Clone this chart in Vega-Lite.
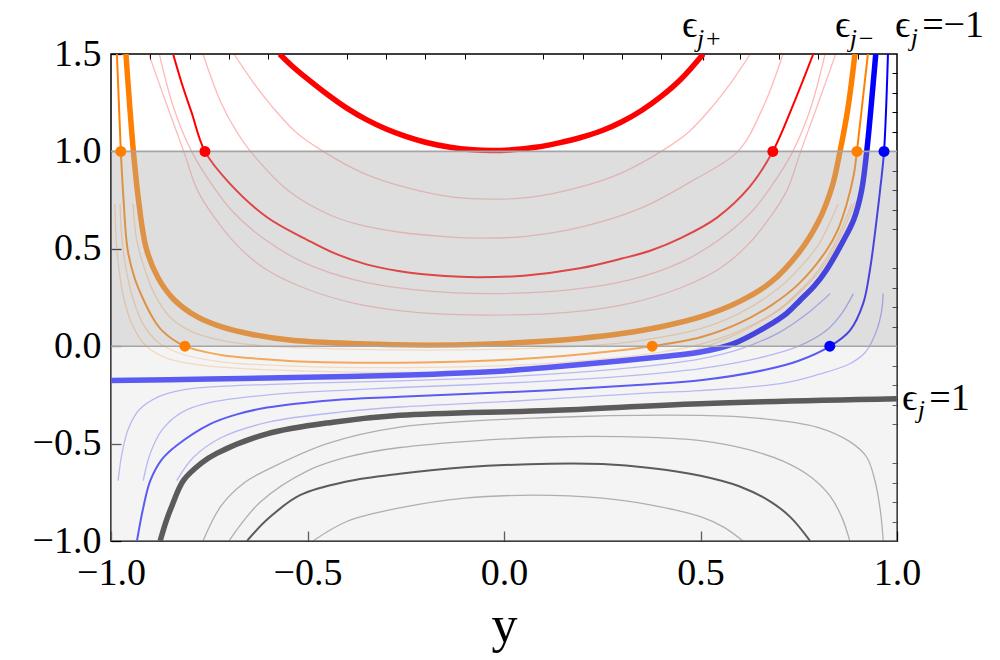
{
  "$schema": "https://vega.github.io/schema/vega-lite/v6.json",
  "width": 786,
  "height": 487,
  "autosize": {"type": "none"},
  "padding": {"left": 111, "top": 54, "right": 103, "bottom": 119},
  "background": "white",
  "config": {
    "view": {"stroke": "#000000", "strokeWidth": 1.5},
    "font": "Liberation Serif"
  },
  "datasets": {
    "info": [
      {"c": "R0", "family": "red", "kind": "thick"},
      {"c": "R1", "family": "red", "kind": "thin"},
      {"c": "R2", "family": "red", "kind": "faint"},
      {"c": "R3", "family": "red", "kind": "faint"},
      {"c": "R4", "family": "red", "kind": "faint"},
      {"c": "R5", "family": "red", "kind": "faint"},
      {"c": "O0", "family": "orange", "kind": "thick"},
      {"c": "O1", "family": "orange", "kind": "thin"},
      {"c": "O2", "family": "orange", "kind": "faint"},
      {"c": "O3", "family": "orange", "kind": "faint"},
      {"c": "O4", "family": "orange", "kind": "faint"},
      {"c": "B0", "family": "blue", "kind": "thick"},
      {"c": "B1", "family": "blue", "kind": "thin"},
      {"c": "B2", "family": "blue", "kind": "faint"},
      {"c": "B3", "family": "blue", "kind": "faint"},
      {"c": "B4", "family": "blue", "kind": "faint"},
      {"c": "G0", "family": "black", "kind": "thick"},
      {"c": "G1", "family": "black", "kind": "thin"},
      {"c": "G2", "family": "black", "kind": "faint"},
      {"c": "G3", "family": "black", "kind": "faint"},
      {"c": "G4", "family": "black", "kind": "faint"}
    ],
    "curves": [
      {"c":"R0","x":-0.571,"y":1.5},{"c":"R0","x":-0.54,"y":1.44},{"c":"R0","x":-0.5,"y":1.372},{"c":"R0","x":-0.45,"y":1.293},{"c":"R0","x":-0.4,"y":1.222},{"c":"R0","x":-0.35,"y":1.163},{"c":"R0","x":-0.3,"y":1.115},{"c":"R0","x":-0.25,"y":1.077},{"c":"R0","x":-0.2,"y":1.047},{"c":"R0","x":-0.137,"y":1.021},{"c":"R0","x":-0.08,"y":1.008},{"c":"R0","x":-0.032,"y":1.004},{"c":"R0","x":0.02,"y":1.008},{"c":"R0","x":0.08,"y":1.021},{"c":"R0","x":0.14,"y":1.044},{"c":"R0","x":0.193,"y":1.07},{"c":"R0","x":0.25,"y":1.107},{"c":"R0","x":0.3,"y":1.152},{"c":"R0","x":0.35,"y":1.21},{"c":"R0","x":0.4,"y":1.282},{"c":"R0","x":0.45,"y":1.37},{"c":"R0","x":0.507,"y":1.5},

      {"c":"R1","x":-0.842,"y":1.5},{"c":"R1","x":-0.82,"y":1.35},{"c":"R1","x":-0.795,"y":1.2},{"c":"R1","x":-0.761,"y":1.0},{"c":"R1","x":-0.7,"y":0.84},{"c":"R1","x":-0.603,"y":0.662},{"c":"R1","x":-0.5,"y":0.545},{"c":"R1","x":-0.435,"y":0.48},{"c":"R1","x":-0.35,"y":0.42},{"c":"R1","x":-0.265,"y":0.385},{"c":"R1","x":-0.15,"y":0.36},{"c":"R1","x":-0.07,"y":0.354},{"c":"R1","x":0.05,"y":0.362},{"c":"R1","x":0.193,"y":0.4},{"c":"R1","x":0.3,"y":0.45},{"c":"R1","x":0.372,"y":0.49},{"c":"R1","x":0.455,"y":0.56},{"c":"R1","x":0.542,"y":0.66},{"c":"R1","x":0.626,"y":0.82},{"c":"R1","x":0.684,"y":1.0},{"c":"R1","x":0.736,"y":1.24},{"c":"R1","x":0.787,"y":1.5},

      {"c":"R2","x":-0.687,"y":1.5},{"c":"R2","x":-0.64,"y":1.36},{"c":"R2","x":-0.59,"y":1.23},{"c":"R2","x":-0.53,"y":1.1},{"c":"R2","x":-0.46,"y":1.0},{"c":"R2","x":-0.36,"y":0.89},{"c":"R2","x":-0.25,"y":0.815},{"c":"R2","x":-0.13,"y":0.765},{"c":"R2","x":-0.03,"y":0.755},{"c":"R2","x":0.07,"y":0.765},{"c":"R2","x":0.19,"y":0.815},{"c":"R2","x":0.3,"y":0.89},{"c":"R2","x":0.4,"y":1.0},{"c":"R2","x":0.47,"y":1.1},{"c":"R2","x":0.53,"y":1.23},{"c":"R2","x":0.58,"y":1.36},{"c":"R2","x":0.627,"y":1.5},

      {"c":"R3","x":-0.766,"y":1.5},{"c":"R3","x":-0.72,"y":1.25},{"c":"R3","x":-0.68,"y":1.1},{"c":"R3","x":-0.645,"y":1.0},{"c":"R3","x":-0.55,"y":0.8},{"c":"R3","x":-0.45,"y":0.68},{"c":"R3","x":-0.371,"y":0.625},{"c":"R3","x":-0.265,"y":0.585},{"c":"R3","x":-0.15,"y":0.563},{"c":"R3","x":-0.05,"y":0.555},{"c":"R3","x":0.05,"y":0.563},{"c":"R3","x":0.193,"y":0.61},{"c":"R3","x":0.35,"y":0.71},{"c":"R3","x":0.48,"y":0.85},{"c":"R3","x":0.595,"y":1.0},{"c":"R3","x":0.66,"y":1.23},{"c":"R3","x":0.71,"y":1.5},

      {"c":"R4","x":-0.877,"y":1.5},{"c":"R4","x":-0.84,"y":1.22},{"c":"R4","x":-0.795,"y":1.0},{"c":"R4","x":-0.74,"y":0.82},{"c":"R4","x":-0.69,"y":0.69},{"c":"R4","x":-0.61,"y":0.55},{"c":"R4","x":-0.51,"y":0.43},{"c":"R4","x":-0.38,"y":0.34},{"c":"R4","x":-0.23,"y":0.29},{"c":"R4","x":-0.03,"y":0.27},{"c":"R4","x":0.17,"y":0.29},{"c":"R4","x":0.32,"y":0.34},{"c":"R4","x":0.45,"y":0.43},{"c":"R4","x":0.55,"y":0.55},{"c":"R4","x":0.63,"y":0.69},{"c":"R4","x":0.68,"y":0.82},{"c":"R4","x":0.735,"y":1.0},{"c":"R4","x":0.78,"y":1.22},{"c":"R4","x":0.817,"y":1.5},

      {"c":"R5","x":-0.904,"y":1.5},{"c":"R5","x":-0.86,"y":1.25},{"c":"R5","x":-0.815,"y":1.0},{"c":"R5","x":-0.78,"y":0.8},{"c":"R5","x":-0.74,"y":0.67},{"c":"R5","x":-0.68,"y":0.52},{"c":"R5","x":-0.61,"y":0.4},{"c":"R5","x":-0.51,"y":0.3},{"c":"R5","x":-0.38,"y":0.22},{"c":"R5","x":-0.23,"y":0.175},{"c":"R5","x":-0.03,"y":0.16},{"c":"R5","x":0.17,"y":0.175},{"c":"R5","x":0.32,"y":0.22},{"c":"R5","x":0.45,"y":0.3},{"c":"R5","x":0.55,"y":0.4},{"c":"R5","x":0.62,"y":0.52},{"c":"R5","x":0.68,"y":0.67},{"c":"R5","x":0.72,"y":0.8},{"c":"R5","x":0.755,"y":1.0},{"c":"R5","x":0.8,"y":1.25},{"c":"R5","x":0.844,"y":1.5},

      {"c":"O0","x":-0.962,"y":1.5},{"c":"O0","x":-0.953,"y":1.25},{"c":"O0","x":-0.943,"y":1.0},{"c":"O0","x":-0.93,"y":0.75},{"c":"O0","x":-0.91,"y":0.5},{"c":"O0","x":-0.88,"y":0.35},{"c":"O0","x":-0.84,"y":0.24},{"c":"O0","x":-0.78,"y":0.15},{"c":"O0","x":-0.72,"y":0.1},{"c":"O0","x":-0.64,"y":0.06},{"c":"O0","x":-0.54,"y":0.03},{"c":"O0","x":-0.37,"y":0.012},{"c":"O0","x":-0.2,"y":0.005},{"c":"O0","x":-0.05,"y":0.01},{"c":"O0","x":0.1,"y":0.025},{"c":"O0","x":0.193,"y":0.04},{"c":"O0","x":0.3,"y":0.065},{"c":"O0","x":0.4,"y":0.1},{"c":"O0","x":0.5,"y":0.15},{"c":"O0","x":0.6,"y":0.23},{"c":"O0","x":0.68,"y":0.33},{"c":"O0","x":0.75,"y":0.48},{"c":"O0","x":0.8,"y":0.64},{"c":"O0","x":0.835,"y":0.82},{"c":"O0","x":0.855,"y":1.0},{"c":"O0","x":0.875,"y":1.22},{"c":"O0","x":0.893,"y":1.5},

      {"c":"O1","x":-0.985,"y":1.5},{"c":"O1","x":-0.98,"y":1.25},{"c":"O1","x":-0.975,"y":1.0},{"c":"O1","x":-0.968,"y":0.75},{"c":"O1","x":-0.958,"y":0.5},{"c":"O1","x":-0.94,"y":0.35},{"c":"O1","x":-0.92,"y":0.25},{"c":"O1","x":-0.895,"y":0.15},{"c":"O1","x":-0.87,"y":0.08},{"c":"O1","x":-0.812,"y":0.0},{"c":"O1","x":-0.72,"y":-0.045},{"c":"O1","x":-0.6,"y":-0.068},{"c":"O1","x":-0.5,"y":-0.08},{"c":"O1","x":-0.265,"y":-0.085},{"c":"O1","x":-0.05,"y":-0.075},{"c":"O1","x":0.15,"y":-0.05},{"c":"O1","x":0.28,"y":-0.025},{"c":"O1","x":0.377,"y":0.0},{"c":"O1","x":0.5,"y":0.046},{"c":"O1","x":0.6,"y":0.12},{"c":"O1","x":0.68,"y":0.21},{"c":"O1","x":0.75,"y":0.32},{"c":"O1","x":0.82,"y":0.49},{"c":"O1","x":0.85,"y":0.6},{"c":"O1","x":0.872,"y":0.73},{"c":"O1","x":0.89,"y":0.88},{"c":"O1","x":0.898,"y":1.0},{"c":"O1","x":0.912,"y":1.25},{"c":"O1","x":0.926,"y":1.5},

      {"c":"O2","x":-0.944,"y":0.73},{"c":"O2","x":-0.935,"y":0.55},{"c":"O2","x":-0.915,"y":0.4},{"c":"O2","x":-0.89,"y":0.27},{"c":"O2","x":-0.85,"y":0.15},{"c":"O2","x":-0.8,"y":0.08},{"c":"O2","x":-0.72,"y":0.03},{"c":"O2","x":-0.6,"y":0.0},{"c":"O2","x":-0.4,"y":-0.015},{"c":"O2","x":-0.2,"y":-0.02},{"c":"O2","x":0.0,"y":-0.015},{"c":"O2","x":0.2,"y":0.0},{"c":"O2","x":0.35,"y":0.03},{"c":"O2","x":0.5,"y":0.09},{"c":"O2","x":0.6,"y":0.17},{"c":"O2","x":0.7,"y":0.3},{"c":"O2","x":0.76,"y":0.42},{"c":"O2","x":0.8,"y":0.52},{"c":"O2","x":0.85,"y":0.73},

      {"c":"O3","x":-0.977,"y":0.73},{"c":"O3","x":-0.972,"y":0.55},{"c":"O3","x":-0.962,"y":0.4},{"c":"O3","x":-0.945,"y":0.25},{"c":"O3","x":-0.92,"y":0.12},{"c":"O3","x":-0.88,"y":0.02},{"c":"O3","x":-0.82,"y":-0.04},{"c":"O3","x":-0.72,"y":-0.08},{"c":"O3","x":-0.5,"y":-0.105},{"c":"O3","x":-0.25,"y":-0.11},{"c":"O3","x":0.0,"y":-0.1},{"c":"O3","x":0.2,"y":-0.075},{"c":"O3","x":0.4,"y":-0.03},{"c":"O3","x":0.5,"y":0.01},{"c":"O3","x":0.6,"y":0.08},{"c":"O3","x":0.7,"y":0.19},{"c":"O3","x":0.76,"y":0.3},{"c":"O3","x":0.8,"y":0.39},{"c":"O3","x":0.84,"y":0.52},{"c":"O3","x":0.885,"y":0.73},

      {"c":"O4","x":-0.99,"y":0.73},{"c":"O4","x":-0.987,"y":0.55},{"c":"O4","x":-0.98,"y":0.4},{"c":"O4","x":-0.968,"y":0.25},{"c":"O4","x":-0.948,"y":0.12},{"c":"O4","x":-0.915,"y":0.01},{"c":"O4","x":-0.86,"y":-0.06},{"c":"O4","x":-0.76,"y":-0.1},{"c":"O4","x":-0.5,"y":-0.128},{"c":"O4","x":-0.25,"y":-0.135},{"c":"O4","x":0.0,"y":-0.125},{"c":"O4","x":0.2,"y":-0.1},{"c":"O4","x":0.4,"y":-0.05},{"c":"O4","x":0.5,"y":-0.01},{"c":"O4","x":0.6,"y":0.07},{"c":"O4","x":0.7,"y":0.185},{"c":"O4","x":0.77,"y":0.31},{"c":"O4","x":0.82,"y":0.43},{"c":"O4","x":0.86,"y":0.58},{"c":"O4","x":0.893,"y":0.74},

      {"c":"B0","x":-1.0,"y":-0.176},{"c":"B0","x":-0.75,"y":-0.169},{"c":"B0","x":-0.5,"y":-0.16},{"c":"B0","x":-0.265,"y":-0.149},{"c":"B0","x":0.0,"y":-0.127},{"c":"B0","x":0.117,"y":-0.108},{"c":"B0","x":0.3,"y":-0.075},{"c":"B0","x":0.42,"y":-0.05},{"c":"B0","x":0.5,"y":-0.03},{"c":"B0","x":0.583,"y":0.012},{"c":"B0","x":0.668,"y":0.1},{"c":"B0","x":0.72,"y":0.17},{"c":"B0","x":0.753,"y":0.235},{"c":"B0","x":0.79,"y":0.31},{"c":"B0","x":0.82,"y":0.39},{"c":"B0","x":0.863,"y":0.54},{"c":"B0","x":0.89,"y":0.65},{"c":"B0","x":0.91,"y":0.8},{"c":"B0","x":0.923,"y":1.0},{"c":"B0","x":0.935,"y":1.25},{"c":"B0","x":0.946,"y":1.5},

      {"c":"B1","x":-0.934,"y":-1.0},{"c":"B1","x":-0.918,"y":-0.83},{"c":"B1","x":-0.9,"y":-0.69},{"c":"B1","x":-0.87,"y":-0.58},{"c":"B1","x":-0.833,"y":-0.51},{"c":"B1","x":-0.748,"y":-0.4},{"c":"B1","x":-0.68,"y":-0.35},{"c":"B1","x":-0.603,"y":-0.315},{"c":"B1","x":-0.435,"y":-0.277},{"c":"B1","x":-0.265,"y":-0.26},{"c":"B1","x":0.117,"y":-0.226},{"c":"B1","x":0.372,"y":-0.195},{"c":"B1","x":0.5,"y":-0.175},{"c":"B1","x":0.668,"y":-0.12},{"c":"B1","x":0.75,"y":-0.075},{"c":"B1","x":0.83,"y":0.0},{"c":"B1","x":0.88,"y":0.08},{"c":"B1","x":0.914,"y":0.22},{"c":"B1","x":0.931,"y":0.39},{"c":"B1","x":0.948,"y":0.647},{"c":"B1","x":0.958,"y":0.82},{"c":"B1","x":0.967,"y":1.0},{"c":"B1","x":0.977,"y":1.5},

      {"c":"B2","x":-0.982,"y":-0.69},{"c":"B2","x":-0.972,"y":-0.55},{"c":"B2","x":-0.957,"y":-0.43},{"c":"B2","x":-0.93,"y":-0.33},{"c":"B2","x":-0.88,"y":-0.26},{"c":"B2","x":-0.82,"y":-0.225},{"c":"B2","x":-0.753,"y":-0.21},{"c":"B2","x":-0.5,"y":-0.19},{"c":"B2","x":-0.265,"y":-0.178},{"c":"B2","x":0.0,"y":-0.157},{"c":"B2","x":0.3,"y":-0.115},{"c":"B2","x":0.5,"y":-0.065},{"c":"B2","x":0.6,"y":-0.015},{"c":"B2","x":0.7,"y":0.07},{"c":"B2","x":0.77,"y":0.165},{"c":"B2","x":0.83,"y":0.27},

      {"c":"B3","x":-0.918,"y":-0.69},{"c":"B3","x":-0.9,"y":-0.55},{"c":"B3","x":-0.87,"y":-0.43},{"c":"B3","x":-0.82,"y":-0.34},{"c":"B3","x":-0.75,"y":-0.29},{"c":"B3","x":-0.6,"y":-0.25},{"c":"B3","x":-0.4,"y":-0.225},{"c":"B3","x":-0.265,"y":-0.212},{"c":"B3","x":0.0,"y":-0.19},{"c":"B3","x":0.3,"y":-0.155},{"c":"B3","x":0.5,"y":-0.115},{"c":"B3","x":0.65,"y":-0.06},{"c":"B3","x":0.75,"y":0.0},{"c":"B3","x":0.82,"y":0.08},{"c":"B3","x":0.86,"y":0.17},{"c":"B3","x":0.889,"y":0.27},

      {"c":"B4","x":-0.833,"y":-0.69},{"c":"B4","x":-0.79,"y":-0.57},{"c":"B4","x":-0.72,"y":-0.47},{"c":"B4","x":-0.6,"y":-0.39},{"c":"B4","x":-0.4,"y":-0.335},{"c":"B4","x":-0.265,"y":-0.312},{"c":"B4","x":0.0,"y":-0.285},{"c":"B4","x":0.372,"y":-0.24},{"c":"B4","x":0.5,"y":-0.228},{"c":"B4","x":0.71,"y":-0.19},{"c":"B4","x":0.8,"y":-0.145},{"c":"B4","x":0.88,"y":-0.09},{"c":"B4","x":0.92,"y":-0.03},{"c":"B4","x":0.948,"y":0.08},{"c":"B4","x":0.96,"y":0.17},{"c":"B4","x":0.965,"y":0.27},

      {"c":"G0","x":-0.875,"y":-1.0},{"c":"G0","x":-0.86,"y":-0.9},{"c":"G0","x":-0.845,"y":-0.82},{"c":"G0","x":-0.816,"y":-0.69},{"c":"G0","x":-0.77,"y":-0.6},{"c":"G0","x":-0.731,"y":-0.55},{"c":"G0","x":-0.603,"y":-0.45},{"c":"G0","x":-0.435,"y":-0.39},{"c":"G0","x":-0.265,"y":-0.355},{"c":"G0","x":0.117,"y":-0.33},{"c":"G0","x":0.5,"y":-0.295},{"c":"G0","x":1.0,"y":-0.27},

      {"c":"G1","x":-0.654,"y":-1.0},{"c":"G1","x":-0.6,"y":-0.885},{"c":"G1","x":-0.519,"y":-0.765},{"c":"G1","x":-0.4,"y":-0.695},{"c":"G1","x":-0.265,"y":-0.655},{"c":"G1","x":-0.1,"y":-0.622},{"c":"G1","x":0.117,"y":-0.603},{"c":"G1","x":0.25,"y":-0.605},{"c":"G1","x":0.372,"y":-0.625},{"c":"G1","x":0.5,"y":-0.665},{"c":"G1","x":0.6,"y":-0.72},{"c":"G1","x":0.68,"y":-0.8},{"c":"G1","x":0.73,"y":-0.88},{"c":"G1","x":0.779,"y":-1.0},

      {"c":"G2","x":-0.766,"y":-1.0},{"c":"G2","x":-0.72,"y":-0.82},{"c":"G2","x":-0.66,"y":-0.7},{"c":"G2","x":-0.603,"y":-0.635},{"c":"G2","x":-0.45,"y":-0.5},{"c":"G2","x":-0.265,"y":-0.415},{"c":"G2","x":0.117,"y":-0.366},{"c":"G2","x":0.5,"y":-0.355},{"c":"G2","x":0.65,"y":-0.37},{"c":"G2","x":0.796,"y":-0.415},{"c":"G2","x":0.88,"y":-0.49},{"c":"G2","x":0.923,"y":-0.57},{"c":"G2","x":0.945,"y":-0.7},{"c":"G2","x":0.958,"y":-0.85},{"c":"G2","x":0.965,"y":-1.0},

      {"c":"G3","x":-0.7,"y":-1.0},{"c":"G3","x":-0.62,"y":-0.8},{"c":"G3","x":-0.5,"y":-0.64},{"c":"G3","x":-0.4,"y":-0.57},{"c":"G3","x":-0.265,"y":-0.52},{"c":"G3","x":0.117,"y":-0.466},{"c":"G3","x":0.372,"y":-0.468},{"c":"G3","x":0.5,"y":-0.485},{"c":"G3","x":0.62,"y":-0.53},{"c":"G3","x":0.71,"y":-0.59},{"c":"G3","x":0.78,"y":-0.67},{"c":"G3","x":0.83,"y":-0.77},{"c":"G3","x":0.86,"y":-0.88},{"c":"G3","x":0.88,"y":-1.0},

      {"c":"G4","x":-0.486,"y":-1.0},{"c":"G4","x":-0.4,"y":-0.9},{"c":"G4","x":-0.265,"y":-0.83},{"c":"G4","x":-0.1,"y":-0.78},{"c":"G4","x":0.075,"y":-0.765},{"c":"G4","x":0.25,"y":-0.78},{"c":"G4","x":0.372,"y":-0.815},{"c":"G4","x":0.5,"y":-0.875},{"c":"G4","x":0.56,"y":-0.93},{"c":"G4","x":0.608,"y":-1.0}
    ],
    "dots": [
      {"family":"red","x":-0.761,"y":1.0},{"family":"red","x":0.684,"y":1.0},
      {"family":"orange","x":-0.975,"y":1.0},{"family":"orange","x":0.898,"y":1.0},
      {"family":"orange","x":-0.812,"y":0.0},{"family":"orange","x":0.377,"y":0.0},
      {"family":"blue","x":0.967,"y":1.0},{"family":"blue","x":0.829,"y":0.0}
    ],
    "upper": [{"lo":0,"hi":1}],
    "lower": [{"lo":-1,"hi":0}],
    "edges": [{"v":0},{"v":1}],
    "labmain": [
      {"t":"ϵ","x":0.453,"y":1.586},
      {"t":"ϵ","x":0.842,"y":1.586},
      {"t":"ϵ","x":0.995,"y":1.586},
      {"t":"=−1","x":1.064,"y":1.586},
      {"t":"ϵ","x":1.013,"y":-0.33},
      {"t":"=1","x":1.082,"y":-0.33}
    ],
    "labsub": [
      {"t":"j+","x":0.491,"y":1.535},
      {"t":"j−","x":0.88,"y":1.535},
      {"t":"j","x":1.035,"y":1.54},
      {"t":"j","x":1.053,"y":-0.37}
    ]
  },
  "resolve": {"axis": {"x": "independent", "y": "independent"}},
  "layer": [
    {
      "data": {"name": "curves"},
      "transform": [
        {"lookup": "c", "from": {"data": {"name": "info"}, "key": "c", "fields": ["family", "kind"]}},
        {"filter": {"field": "kind", "equal": "faint"}}
      ],
      "mark": {"type": "line", "strokeWidth": 1.3, "interpolate": "catmull-rom", "clip": true},
      "encoding": {
        "x": {"field": "x", "type": "quantitative", "scale": {"domain": [-1, 1], "nice": false, "zero": false},
          "axis": {"values": [-1, -0.5, 0, 0.5, 1], "format": ".1f", "labelFont": "Liberation Serif", "labelFontSize": 38, "labelColor": "#000", "labelPadding": 23, "labelFlush": false, "labelOverlap": false, "tickSize": -10, "tickColor": "#000", "tickWidth": 1.3, "domain": false, "grid": false, "title": "y", "titleFont": "Liberation Serif", "titleFontSize": 52, "titleFontWeight": "normal", "titleColor": "#000", "titlePadding": 8}},
        "y": {"field": "y", "type": "quantitative", "scale": {"domain": [-1, 1.5], "nice": false, "zero": false},
          "axis": {"values": [-1, -0.5, 0, 0.5, 1, 1.5], "format": ".1f", "labelFont": "Liberation Serif", "labelFontSize": 38, "labelColor": "#000", "labelPadding": 20, "labelFlush": false, "labelOverlap": false, "tickSize": -10, "tickColor": "#000", "tickWidth": 1.3, "domain": false, "grid": false, "title": null}},
        "color": {"field": "family", "type": "nominal", "scale": {"domain": ["red", "orange", "blue", "black"], "range": ["#ff0000", "#ff8000", "#0000ff", "#000000"]}, "legend": null},
        "opacity": {"field": "family", "type": "nominal", "scale": {"domain": ["red", "orange", "blue", "black"], "range": [0.28, 0.45, 0.3, 0.3]}, "legend": null},
        "detail": {"field": "c"}
      }
    },
    {
      "data": {"name": "curves"},
      "transform": [
        {"lookup": "c", "from": {"data": {"name": "info"}, "key": "c", "fields": ["family", "kind"]}},
        {"filter": {"field": "kind", "equal": "thin"}}
      ],
      "mark": {"type": "line", "strokeWidth": 2, "interpolate": "catmull-rom", "clip": true},
      "encoding": {
        "x": {"field": "x", "type": "quantitative",
          "axis": {"values": [-0.9, -0.8, -0.7, -0.6, -0.4, -0.3, -0.2, -0.1, 0.1, 0.2, 0.3, 0.4, 0.6, 0.7, 0.8, 0.9], "labels": false, "tickSize": -5, "tickColor": "#000", "tickWidth": 1, "domain": false, "grid": false, "title": null}},
        "y": {"field": "y", "type": "quantitative",
          "axis": {"values": [-0.9, -0.8, -0.7, -0.6, -0.4, -0.3, -0.2, -0.1, 0.1, 0.2, 0.3, 0.4, 0.6, 0.7, 0.8, 0.9, 1.1, 1.2, 1.3, 1.4], "labels": false, "tickSize": -5, "tickColor": "#000", "tickWidth": 1, "domain": false, "grid": false, "title": null}},
        "color": {"field": "family", "type": "nominal", "legend": null},
        "detail": {"field": "c"}
      }
    },
    {
      "data": {"name": "curves"},
      "transform": [
        {"lookup": "c", "from": {"data": {"name": "info"}, "key": "c", "fields": ["family", "kind"]}},
        {"filter": {"field": "kind", "equal": "thick"}}
      ],
      "mark": {"type": "line", "strokeWidth": 5.5, "interpolate": "catmull-rom", "clip": true},
      "encoding": {
        "x": {"field": "x", "type": "quantitative",
          "axis": {"orient": "top", "values": [0.507, 0.893, 0.946], "labels": false, "tickSize": -6, "tickColor": "#000", "tickWidth": 1.2, "domain": false, "grid": false, "title": null}},
        "y": {"field": "y", "type": "quantitative",
          "axis": {"orient": "right", "values": [-0.27], "labels": false, "tickSize": -6, "tickColor": "#000", "tickWidth": 1.2, "domain": false, "grid": false, "title": null}},
        "color": {"field": "family", "type": "nominal", "legend": null},
        "detail": {"field": "c"}
      }
    },
    {
      "data": {"name": "upper"},
      "mark": {"type": "rect", "color": "#adadad", "opacity": 0.4},
      "encoding": {
        "y": {"field": "lo", "type": "quantitative", "axis": null},
        "y2": {"field": "hi"}
      }
    },
    {
      "data": {"name": "lower"},
      "mark": {"type": "rect", "color": "#e3e3e3", "opacity": 0.4},
      "encoding": {
        "y": {"field": "lo", "type": "quantitative", "axis": null},
        "y2": {"field": "hi"}
      }
    },
    {
      "data": {"name": "edges"},
      "mark": {"type": "rule", "color": "#a5a5a5", "strokeWidth": 1.6},
      "encoding": {
        "y": {"field": "v", "type": "quantitative", "axis": null}
      }
    },
    {
      "data": {"name": "dots"},
      "mark": {"type": "circle", "size": 120, "opacity": 1},
      "encoding": {
        "x": {"field": "x", "type": "quantitative", "axis": null},
        "y": {"field": "y", "type": "quantitative", "axis": null},
        "color": {"field": "family", "type": "nominal", "legend": null}
      }
    },
    {
      "data": {"name": "labmain"},
      "mark": {"type": "text", "font": "Liberation Serif", "fontSize": 38, "align": "left", "baseline": "alphabetic", "color": "#000"},
      "encoding": {
        "x": {"field": "x", "type": "quantitative", "axis": null},
        "y": {"field": "y", "type": "quantitative", "axis": null},
        "text": {"field": "t"}
      }
    },
    {
      "data": {"name": "labsub"},
      "mark": {"type": "text", "font": "Liberation Serif", "fontSize": 26, "fontStyle": "italic", "align": "left", "baseline": "alphabetic", "color": "#000"},
      "encoding": {
        "x": {"field": "x", "type": "quantitative", "axis": null},
        "y": {"field": "y", "type": "quantitative", "axis": null},
        "text": {"field": "t"}
      }
    }
  ]
}
